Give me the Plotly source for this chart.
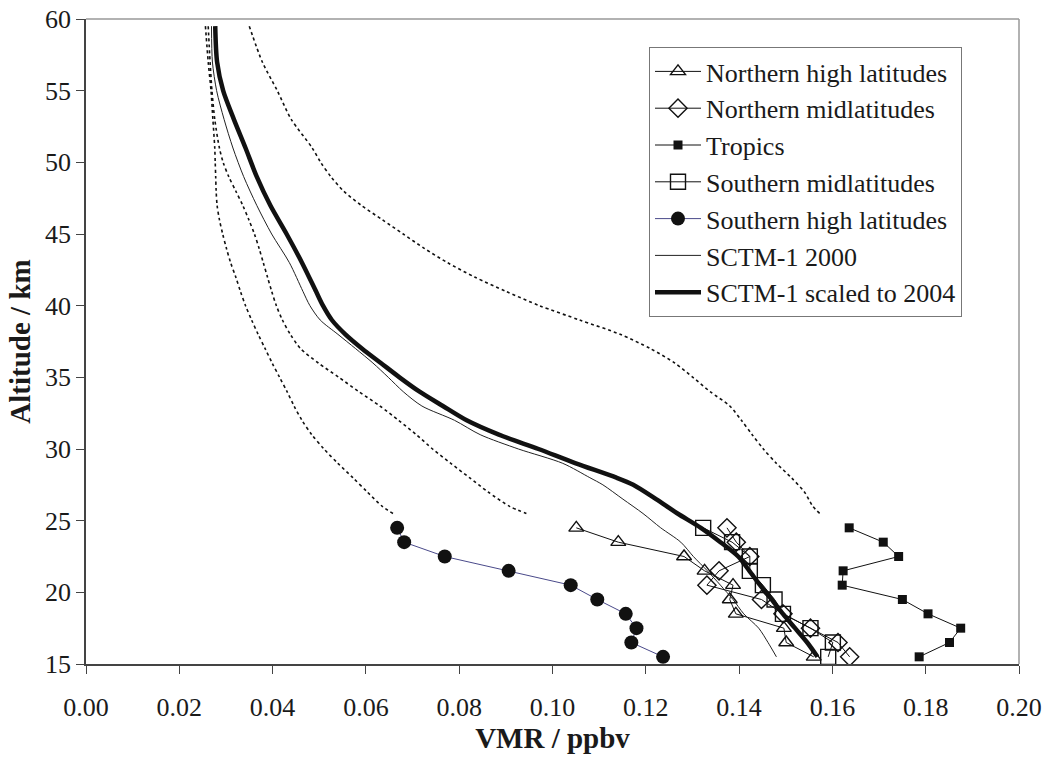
import plotly.graph_objects as go

alt_obs = [24.5, 23.5, 22.5, 21.5, 20.5, 19.5, 18.5, 17.5, 16.5, 15.5]
nhl = [0.1051, 0.1141, 0.1282, 0.1326, 0.1387, 0.1380, 0.1393, 0.1496, 0.1501, 0.1560]
nml = [0.1374, 0.1394, 0.1423, 0.1357, 0.1331, 0.1448, 0.1494, 0.1553, 0.1612, 0.1637]
trop = [0.1636, 0.1709, 0.1742, 0.1623, 0.1621, 0.1750, 0.1805, 0.1875, 0.1851, 0.1786]
sml = [0.1323, 0.1385, 0.1423, 0.1423, 0.1451, 0.1476, 0.1494, 0.1553, 0.1601, 0.1591]
shl = [0.0667, 0.0682, 0.0769, 0.0906, 0.1039, 0.1096, 0.1157, 0.1180, 0.1169, 0.1237]

alt_model = [59.5, 57, 55, 53, 51, 49, 47, 45, 43, 41, 40, 39, 38, 37, 36, 35, 34, 33, 32, 31,
             30, 29, 28, 27.5, 26.5, 25.5, 24.5, 23.5, 22.5, 21.5, 20.5, 19.5, 18.5, 17.5, 16.5, 15.5]
sctm_2000 = [0.0269, 0.0271, 0.0280, 0.0296, 0.0315, 0.0338, 0.0366, 0.0398, 0.0436, 0.0465, 0.0480,
             0.0502, 0.0540, 0.0578, 0.0615, 0.0648, 0.0680, 0.0720, 0.0790, 0.0845, 0.0927, 0.1022,
             0.1080, 0.1108, 0.1151, 0.1194, 0.1232, 0.1275, 0.1302, 0.1332, 0.1360, 0.1387, 0.1410,
             0.1442, 0.1462, 0.1480]
sctm_2004 = [0.0277, 0.0281, 0.0294, 0.0317, 0.0342, 0.0366, 0.0395, 0.0430, 0.0463, 0.0493, 0.0508,
             0.0527, 0.0556, 0.0592, 0.0632, 0.0672, 0.0715, 0.0765, 0.0816, 0.0885, 0.0970, 0.1050,
             0.1137, 0.1173, 0.1222, 0.1268, 0.1318, 0.1360, 0.1398, 0.1422, 0.1445, 0.1470, 0.1494,
             0.1520, 0.1546, 0.1568]

alt_err = [59.5, 57, 55, 53, 51, 50, 49, 48, 47, 46, 45, 44, 43, 42, 41, 40, 39, 38, 37, 36, 35,
           34, 33, 32, 31, 30, 29, 28, 27, 26, 25.5]
lower1 = [0.0256, 0.0262, 0.0268, 0.0272, 0.0276, 0.0277, 0.0278, 0.0279, 0.0281, 0.0286, 0.0293,
          0.0301, 0.0310, 0.0321, 0.0331, 0.0342, 0.0355, 0.0369, 0.0384, 0.0399, 0.0415, 0.0431,
          0.0446, 0.0463, 0.0484, 0.0510, 0.0540, 0.0572, 0.0603, 0.0635, 0.0658]
lower2 = [0.0262, 0.0266, 0.0270, 0.0276, 0.0286, 0.0294, 0.0306, 0.0321, 0.0336, 0.0349, 0.0361,
          0.0371, 0.0380, 0.0389, 0.0398, 0.0408, 0.0421, 0.0438, 0.0460, 0.0498, 0.0542, 0.0585,
          0.0630, 0.0670, 0.0708, 0.0743, 0.0782, 0.0822, 0.0862, 0.0908, 0.0944]
upper = [0.0350, 0.0378, 0.0410, 0.0440, 0.0485, 0.0503, 0.0525, 0.0552, 0.0590, 0.0635, 0.0680,
         0.0725, 0.0775, 0.0833, 0.0900, 0.0972, 0.1058, 0.1145, 0.1210, 0.1262, 0.1301, 0.1338,
         0.1380, 0.1405, 0.1428, 0.1452, 0.1480, 0.1512, 0.1540, 0.1558, 0.1573]

x_ticks = [0.00, 0.02, 0.04, 0.06, 0.08, 0.10, 0.12, 0.14, 0.16, 0.18, 0.20]
y_ticks = [15, 20, 25, 30, 35, 40, 45, 50, 55, 60]

FONT = "Liberation Serif"
fig = go.Figure()

for xs in (lower1, lower2, upper):
    fig.add_trace(go.Scatter(x=xs, y=alt_err, mode="lines", showlegend=False,
                             line=dict(color="#111", width=1.6, dash="dot",
                                       shape="spline", smoothing=0.8),
                             hoverinfo="skip"))

fig.add_trace(go.Scatter(x=nhl, y=alt_obs, mode="lines+markers", name="Northern high latitudes",
                         legendgroup="a",
                         line=dict(color="#111", width=1),
                         marker=dict(symbol="triangle-up-open", size=13, color="#111",
                                     line=dict(width=1.4))))
fig.add_trace(go.Scatter(x=nml, y=alt_obs, mode="lines+markers", name="Northern midlatitudes",
                         legendgroup="b",
                         line=dict(color="#111", width=1),
                         marker=dict(symbol="diamond-open", size=14, color="#111",
                                     line=dict(width=1.4))))
fig.add_trace(go.Scatter(x=trop, y=alt_obs, mode="lines+markers", name="Tropics",
                         legendgroup="c",
                         line=dict(color="#111", width=1),
                         marker=dict(symbol="square", size=9, color="#111")))
fig.add_trace(go.Scatter(x=sml, y=alt_obs, mode="lines+markers", name="Southern midlatitudes",
                         legendgroup="d",
                         line=dict(color="#111", width=1),
                         marker=dict(symbol="square-open", size=15, color="#111",
                                     line=dict(width=1.4))))
fig.add_trace(go.Scatter(x=shl, y=alt_obs, mode="lines+markers", name="Southern high latitudes",
                         legendgroup="e",
                         line=dict(color="#4a4a8a", width=1),
                         marker=dict(symbol="circle", size=14, color="#111")))
fig.add_trace(go.Scatter(x=sctm_2000, y=alt_model, mode="lines", name="SCTM-1 2000",
                         legendgroup="f",
                         line=dict(color="#222", width=1, shape="spline", smoothing=0.8)))
fig.add_trace(go.Scatter(x=sctm_2004, y=alt_model, mode="lines", name="SCTM-1 scaled to 2004",
                         legendgroup="g",
                         line=dict(color="#111", width=4.5, shape="spline", smoothing=0.8)))

fig.update_layout(
    width=1048, height=759,
    margin=dict(l=86, r=29, t=19, b=95, autoexpand=False),
    paper_bgcolor="white", plot_bgcolor="white",
    font=dict(family=FONT, size=26, color="#1a1a1a"),
    showlegend=True,
    legend=dict(x=(649 - 86) / 933, y=(664 - 47) / 645, xanchor="left", yanchor="top",
                bgcolor="white", bordercolor="#777", borderwidth=1,
                font=dict(family=FONT, size=26, color="#1a1a1a"),
                tracegroupgap=2, traceorder="normal", itemwidth=46),
    xaxis=dict(range=[0, 0.20], tickvals=x_ticks, tickformat=".2f", automargin=False,
               showgrid=False, zeroline=False, showline=True, linecolor="#444", linewidth=1.5,
               ticks="outside", ticklen=8, tickcolor="#444", ticklabelstandoff=11,
               title=dict(text="<b>VMR / ppbv</b>", font=dict(size=29), standoff=4)),
    yaxis=dict(range=[15, 60], tickvals=y_ticks, automargin=False,
               showgrid=False, zeroline=False, showline=True, linecolor="#444", linewidth=1.5,
               ticks="outside", ticklen=8, tickcolor="#444",
               title=dict(text="<b>Altitude / km</b>", font=dict(size=29), standoff=6)),
)
fig.add_shape(type="line", xref="paper", yref="paper", x0=0, x1=1, y0=1, y1=1,
              line=dict(color="#999", width=1.5))
fig.add_shape(type="line", xref="paper", yref="paper", x0=1, x1=1, y0=0, y1=1,
              line=dict(color="#999", width=1.5))

fig.write_html("out.html")
